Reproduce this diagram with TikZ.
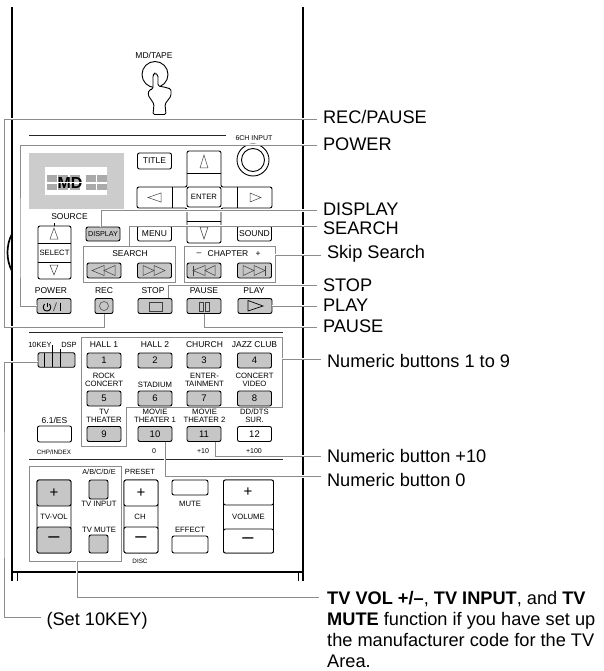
\documentclass[tikz,border=0pt]{standalone}
\usepackage{fontspec}
\setmainfont{Liberation Sans}
\usetikzlibrary{positioning, arrows.meta, shapes.geometric, calc}
\definecolor{btngray}{RGB}{198,198,198}
\definecolor{lcdgray}{RGB}{204,204,204}
\definecolor{segray}{RGB}{170,170,170}
\definecolor{leadgray}{RGB}{140,140,140}
\tikzset{
    bodyline/.style={draw=black, line width=1.7pt},
    btnline/.style={draw=black, line width=0.9pt},
    thinrule/.style={draw=black!85, line width=0.8pt},
    grpbox/.style={rectangle, draw=leadgray, line width=0.9pt, inner sep=0pt},
    whitebtn/.style={rectangle, rounded corners=2pt, draw=black, fill=white, line width=0.9pt, inner sep=0pt, minimum width=34pt, minimum height=15pt, font=\fontsize{8.5}{9}\selectfont},
    graybtn/.style={whitebtn, fill=btngray},
    symline/.style={draw=black!75, line width=0.5pt},
    tinylbl/.style={inner sep=0pt, align=center, font=\fontsize{8.5}{8}\selectfont},
    dbllbl/.style={inner sep=0pt, align=center, font=\fontsize{7.7}{8}\selectfont},
    smalllbl/.style={inner sep=0pt, align=center, font=\fontsize{6.3}{7}\selectfont},
    bigsign/.style={inner sep=0pt, font=\fontsize{15}{15}\selectfont},
    bigdash/.style={inner sep=0pt, font=\fontsize{20}{20}\selectfont},
    % argument sets how far the leader sits above the baseline
    calllbl/.style={anchor=west, inner sep=0pt, outer sep=6pt, text height=#1, text depth=4pt, font=\fontsize{18.2}{21}\selectfont},
    calllbl/.default=16pt,
    leader/.style={draw=leadgray, line width=0.9pt, preaction={draw=white, line width=2.6pt}}
}
\begin{document}
\begin{tikzpicture}[x=1pt, y=-1pt]
            \useasboundingbox (0,0) rectangle (603,671);

            % Remote body
            \draw[bodyline] (12.3,7) -- (12.3,581);
            \draw[bodyline] (302.7,7) -- (302.7,581);
            \draw[bodyline] (12.3,572) -- (302.7,572);
            \draw[btnline] (17,572) -- (17,581);
            \draw[btnline] (298,572) -- (298,581);
            \draw[bodyline] (12,234) .. controls (6,245) and (6,260) .. (12,271);

            % Thin rules
            \draw[thinrule] (29,135.5) -- (226,135.5);
            \draw[thinrule] (29,332) -- (283,332);
            \draw[thinrule] (29,459) -- (283,459);

            % MD/TAPE button and hand
            \node[tinylbl] (mdtape) at (154,55) {MD/TAPE};
            \node[circle, btnline, minimum size=26pt, inner sep=0pt] (mdbtn) at (155,74.5) {};
            \draw[btnline, fill=white, rounded corners=1.5pt] (153,89) -- (153,75) -- (155,73) -- (158,75) -- (158,86) -- (164,87) -- (171,89) -- (171,96) -- (165,104) -- (166,114.5) -- (153,114.5) -- (154,104) -- (148,95) -- (149,90) -- cycle;

            % Display panel
            \fill[lcdgray] (29,153) rectangle (124,209);
            \fill[white] (45,167) rectangle (107,195);
            \foreach \sx in {47,58,70,86,97} {
                \fill[segray] (\sx,175) rectangle +(10,6.5);
                \fill[segray] (\sx,183.5) rectangle +(10,6.5);
            }
            \node[inner sep=0pt, font=\fontsize{16}{16}\selectfont\bfseries] (mdlcd) at (70,182.5) {MD};
            \draw[white, line width=1pt] (47,182.5) -- (106,182.5);

            % Cursor cross
            \draw[btnline, rounded corners=2pt] (187,187) -- (187,151) -- (221,151) -- (221,187) -- (272,187) -- (272,208) -- (221,208) -- (221,243) -- (187,243) -- (187,208) -- (137,208) -- (137,187) -- cycle;
            \draw[btnline] (187,173) -- (221,173);
            \draw[btnline] (187,221) -- (221,221);
            \draw[btnline] (172,187) -- (172,208);
            \draw[btnline] (237,187) -- (237,208);
            \node[whitebtn, minimum height=20pt] (btnenter) at (204,197) {\fontsize{7.7}{8}\selectfont ENTER};
            \draw[symline] (204,155) -- (200,168) -- (208,168) -- cycle;
            \draw[symline] (204,239) -- (200,227) -- (208,227) -- cycle;
            \draw[symline] (148,197.5) -- (161,193) -- (161,202) -- cycle;
            \draw[symline] (261,197.5) -- (250,193) -- (250,202) -- cycle;

            % Top row
            \node[whitebtn, minimum height=16pt] (btntitle) at (154.5,161) {TITLE};
            \node[circle, btnline, minimum size=32pt, inner sep=0pt] (knobout) at (253,160) {};
            \node[circle, btnline, minimum size=23pt, inner sep=0pt] (knobin) at (253,160) {};
            \node[inner sep=0pt, font=\fontsize{7}{8}\selectfont] (sixch) at (254,138) {6CH INPUT};

            % Source selector
            \draw[btnline, rounded corners=2pt] (38,226) rectangle (71,279);
            \draw[btnline] (38,243) -- (71,243);
            \draw[btnline] (38,262) -- (71,262);
            \draw[btnline] (54,223) -- (54,226);
            \node[tinylbl] (source) at (69.5,217) {SOURCE};
            \node[tinylbl] (select) at (54.5,252.5) {\fontsize{7.7}{8}\selectfont SELECT};
            \draw[symline] (54,228) -- (50,239) -- (58,239) -- cycle;
            \draw[symline] (54,275) -- (50,265) -- (58,265) -- cycle;

            % Menu row
            \node[graybtn, minimum height=14pt] (btndisplay) at (103,234) {\fontsize{7.2}{8}\selectfont DISPLAY};
            \node[whitebtn] (btnmenu) at (154.5,233.5) {MENU};
            \node[whitebtn] (btnsound) at (254.5,233.5) {SOUND};

            % Search groups
            \node[grpbox, minimum width=92pt, minimum height=36pt] (boxsearch) at (129,264) {};
            \node[grpbox, minimum width=91pt, minimum height=36pt] (boxchapter) at (229.5,264) {};
            \node[tinylbl] (search) at (130,254) {SEARCH};
            \node[tinylbl] (chapter) at (228,254) {CHAPTER};
            \node[tinylbl] (chapminus) at (199,254) {--};
            \node[tinylbl] (chapplus) at (258,254.5) {+};
            \foreach \bx/\bname in {104/rew, 154.5/ffw, 204/prev, 254.5/next} {
                \node[graybtn] (btn\bname) at (\bx,270.5) {};
            }
            \draw[symline] (92,270.5) -- (104,265.5) -- (104,275.5) -- cycle;
            \draw[symline] (104,270.5) -- (115,265.5) -- (115,275.5) -- cycle;
            \draw[symline] (143,265.5) -- (154,270.5) -- (143,275.5) -- cycle;
            \draw[symline] (154,265.5) -- (165,270.5) -- (154,275.5) -- cycle;
            \draw[symline] (193,265.5) -- (193,275.5);
            \draw[symline] (193,270.5) -- (205,265.5) -- (205,275.5) -- cycle;
            \draw[symline] (205,270.5) -- (215,265.5) -- (215,275.5) -- cycle;
            \draw[symline] (243,265.5) -- (254,270.5) -- (243,275.5) -- cycle;
            \draw[symline] (254,265.5) -- (265,270.5) -- (254,275.5) -- cycle;
            \draw[symline] (265,265.5) -- (265,275.5);

            % Transport row
            \node[graybtn] (btnpower) at (54,306) {};
            \node[graybtn, minimum width=18pt] (btnrec) at (104,306) {};
            \node[graybtn] (btnstop) at (155,306) {};
            \node[graybtn] (btnpause) at (204,306) {};
            \node[graybtn] (btnplay) at (255,306) {};
            \foreach \lx/\lname/\ltext in {51/a/POWER, 104/b/REC, 153/c/STOP, 204/d/PAUSE, 254/e/PLAY} {
                \node[tinylbl] (trans\lname) at (\lx,291) {\ltext};
            }
            \draw[btnline] (47,302.5) -- (47,306.5);
            \draw[btnline] (44.6,304) .. controls (41.5,307.5) and (44,311) .. (47,311) .. controls (50,311) and (52.5,307.5) .. (49.4,304);
            \draw[symline, line width=0.7pt] (53.5,311) -- (56.5,302.5);
            \draw[btnline, line width=0.7pt] (60.8,302.5) -- (60.8,311);
            \draw[symline] (btnrec) circle[radius=4.5pt];
            \draw[symline] (149,302) rectangle (162,311);
            \draw[symline] (199,302) rectangle (203.2,311);
            \draw[symline] (205,302) rectangle (209.2,311);
            \draw[symline, draw=black, line width=0.7pt] (248,300.5) -- (263,306) -- (248,311) -- cycle;

            % 10KEY switch
            \node[graybtn, minimum width=37pt, minimum height=14.5pt] (switch) at (56.5,360) {};
            \draw[btnline] (44,353) -- (44,367);
            \draw[btnline] (52,345) -- (52,367);
            \draw[btnline] (60,349) -- (60,367);
            \node[tinylbl, font=\fontsize{7.5}{8}\selectfont] (tenkey) at (40,345) {10KEY};
            \node[tinylbl, font=\fontsize{7.5}{8}\selectfont] (dsp) at (69,345) {DSP};

            % Numeric buttons
            \draw[leadgray, line width=0.9pt] (81,337) -- (282,337) -- (282,407) -- (126,407) -- (126,446) -- (81,446) -- cycle;
            \coordinate (boxnumedge) at (282,359);
            \foreach \nx/\ny/\n in {104/360.5/1, 155/360.5/2, 204/360.5/3, 254.5/360.5/4, 104/398.5/5, 155/398.5/6, 204/398.5/7, 254.5/398.5/8, 104/434/9, 155/434/10, 204/434/11} {
                \node[graybtn, font=\fontsize{9.5}{10}\selectfont] (btn\n) at (\nx,\ny) {\n};
            }
            \node[whitebtn, font=\fontsize{9.5}{10}\selectfont] (btn12) at (254.5,434) {12};
            \node[whitebtn, minimum height=16pt] (btnsix) at (54.5,434) {};
            \foreach \tx/\ty/\tname/\ttext in {104/345/a/HALL 1, 155/345/b/HALL 2, 204.5/345/c/CHURCH, 254.5/345/d/JAZZ CLUB, 54.5/420/f/{6.1/ES}} {
                \node[tinylbl] (lab\tname) at (\tx,\ty) {\ttext};
            }
            \node[dbllbl] (labrock) at (104,380) {ROCK\\CONCERT};
            \node[dbllbl] (labstad) at (155,384.5) {STADIUM};
            \node[dbllbl] (labent) at (204.5,380) {ENTER-\\TAINMENT};
            \node[dbllbl] (labconc) at (254.5,380) {CONCERT\\VIDEO};
            \node[dbllbl] (labtv) at (104,416) {TV\\THEATER};
            \node[dbllbl] (labmt1) at (155,416) {MOVIE\\THEATER 1};
            \node[dbllbl] (labmt2) at (204.5,416) {MOVIE\\THEATER 2};
            \node[dbllbl] (labdts) at (254.5,416) {DD/DTS\\SUR.};
            \node[smalllbl] (labchp) at (54,452) {CHP/INDEX};
            \node[smalllbl, font=\fontsize{7}{8}\selectfont] (labzero) at (154,451) {0};
            \node[smalllbl, font=\fontsize{7}{8}\selectfont] (labpten) at (203,451) {+10};
            \node[smalllbl, font=\fontsize{7}{8}\selectfont] (labphun) at (254,451) {+100};

            % TV group
            \node[grpbox, minimum width=92pt, minimum height=95pt] (boxtv) at (75,513.5) {};
            \node[smalllbl, font=\fontsize{7.3}{8}\selectfont] (lababc) at (99,472) {A/B/C/D/E};
            \node[tinylbl, font=\fontsize{7.5}{8}\selectfont] (labpreset) at (140,472) {PRESET};
            \node[whitebtn, minimum width=34pt, minimum height=73pt] (tvbody) at (54,516.5) {};
            \node[graybtn, minimum height=26pt] (tvplus) at (54,493) {};
            \node[graybtn, minimum height=26pt] (tvminus) at (54,540) {};
            \node[bigsign] (tvplussign) at (54,493) {+};
            \node[bigdash] (tvminussign) at (54,540) {–};
            \node[dbllbl] (labtvvol) at (54,516.5) {TV-VOL};
            \node[graybtn, minimum width=19pt, minimum height=19pt] (btninput) at (98.5,489.5) {};
            \node[graybtn, minimum width=19pt, minimum height=18pt] (btnmute) at (98.5,544) {};
            \node[dbllbl] (labinput) at (99,503.5) {TV INPUT};
            \node[dbllbl] (labtvmute) at (99,530) {TV MUTE};

            % CH column
            \node[whitebtn, minimum width=34pt, minimum height=73pt] (chbody) at (141,516.5) {};
            \node[whitebtn, minimum height=26pt] (chplus) at (141,493) {};
            \node[whitebtn, minimum height=26pt] (chminus) at (141,540) {};
            \node[bigsign] (chplussign) at (141,493) {+};
            \node[bigdash] (chminussign) at (141,540) {–};
            \node[dbllbl] (labch) at (140,517) {CH};
            \node[smalllbl] (labdisc) at (140,561) {DISC};

            % Mute and effect
            \node[whitebtn, minimum width=36pt] (btntvmute) at (190,487.5) {};
            \node[whitebtn, minimum width=36pt, minimum height=17pt] (btneffect) at (190,544.5) {};
            \node[dbllbl] (labmute) at (190,504) {MUTE};
            \node[dbllbl] (labeffect) at (190,530) {EFFECT};

            % Volume column
            \node[whitebtn, minimum width=50pt, minimum height=73pt] (volbody) at (248.5,516.5) {};
            \node[whitebtn, minimum width=50pt, minimum height=25pt] (volplus) at (248.5,492.5) {};
            \node[whitebtn, minimum width=50pt, minimum height=24pt] (volminus) at (248.5,541) {};
            \node[bigsign] (volplussign) at (248,492.5) {+};
            \node[bigdash] (volminussign) at (248,541) {–};
            \node[dbllbl] (labvol) at (248.5,517) {VOLUME};

            % Callout labels
            \node[calllbl=12.6pt] (lblrec) at (317,119) {REC/PAUSE};
            \node[calllbl] (lblpower) at (317,145) {POWER};
            \node[calllbl=13pt] (lbldisplay) at (317,210.5) {DISPLAY};
            \node[calllbl=20pt] (lblsearch) at (317,226) {SEARCH};
            \node[calllbl=10.6pt] (lblskip) at (321,255) {Skip Search};
            \node[calllbl] (lblstop) at (317,285.5) {STOP};
            \node[calllbl=15.5pt] (lblplay) at (317,306) {PLAY};
            \node[calllbl=15.5pt] (lblpause) at (317,327) {PAUSE};
            \node[calllbl=20pt] (lblnine) at (321,359) {Numeric buttons 1 to 9};
            \node[calllbl=16.6pt] (lblten) at (321,456) {Numeric button +10};
            \node[calllbl=24pt] (lblzero) at (321,476.5) {Numeric button 0};
            \node[calllbl=20pt] (lblset) at (40.5,617) {(Set 10KEY)};
            \node[anchor=north west, inner sep=0pt, align=left, font=\fontsize{18.2}{21}\selectfont] (lbltv) at (327,591) {\textbf{TV VOL +/–}, \textbf{TV INPUT}, and \textbf{TV}\\\textbf{MUTE} function if you have set up\\the manufacturer code for the TV\\Area.};

            % Leader lines
            \coordinate (bendrec) at (4,327);
            \coordinate (bendpower) at (20,250);
            \coordinate (bendset) at (4,500);
            \coordinate (tvend) at (319,597);
            \draw[leader] (lblrec.west) -| (bendrec) -| (btnrec.south);
            \draw[leader] (lblpower.west) -| (bendpower) |- (btnpower.west);
            \draw[leader] (lbldisplay.west) -| ([xshift=-2pt]btndisplay.north);
            \draw[leader] (lblsearch.west) -| (boxsearch.north);
            \draw[leader] (lblskip.west) -- (boxchapter.east |- lblskip.west);
            \draw[leader] (lblstop.west) -| ([xshift=13pt]btnstop.north);
            \draw[leader] (lblplay.west) -- (btnplay.east);
            \draw[leader] (lblpause.west) -| (btnpause.south);
            \draw[leader] (lblnine.west) -- (boxnumedge);
            \draw[leader] (lblten.west) -| ([xshift=11pt]btn11.south);
            \draw[leader] (lblzero.west) -| ([xshift=10pt]btn10.south);
            \draw[leader] (tvend) -| ([xshift=2pt]boxtv.south);
            \draw[leader] ([yshift=-2pt]switch.west) -| (bendset) |- (lblset.west);
        \end{tikzpicture}
\end{document}
